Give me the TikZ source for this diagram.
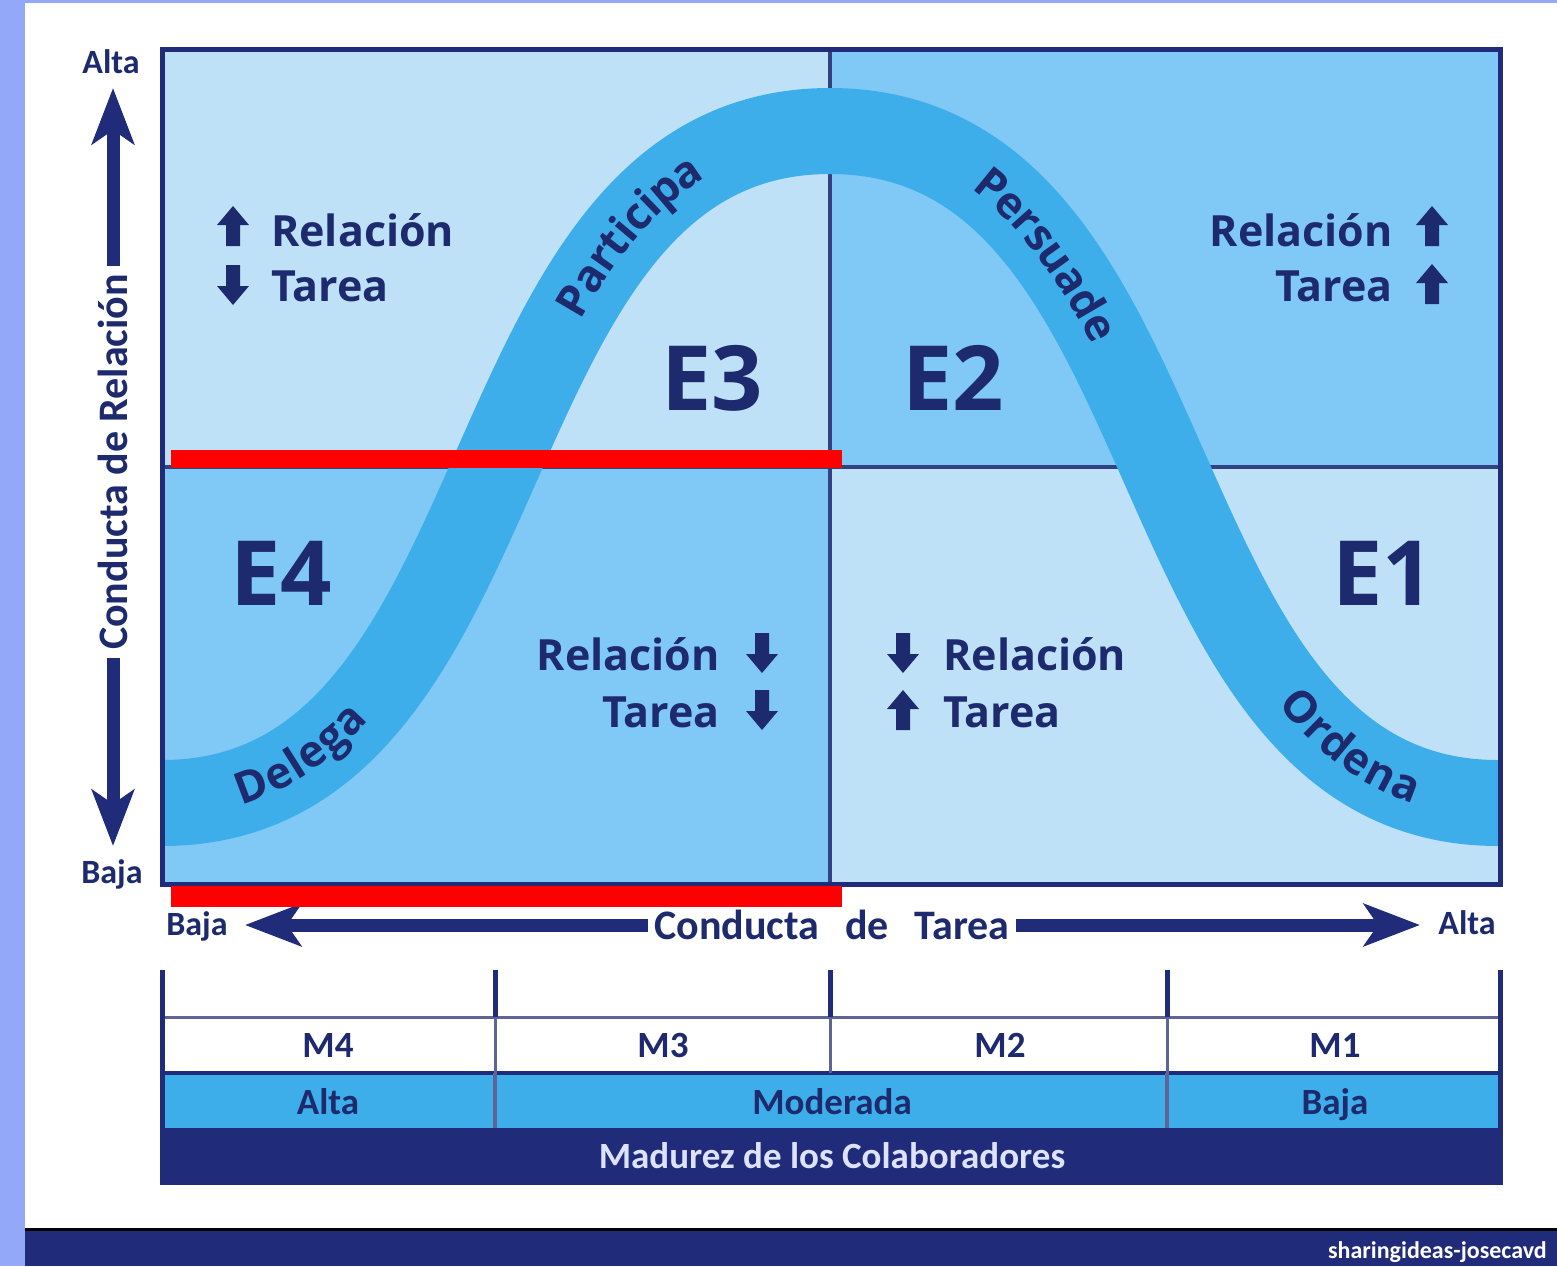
\documentclass[tikz,border=0pt]{standalone}
\usepackage{fontspec}
\setmainfont{Carlito}
\newfontfamily\osans{Open Sans}
\usetikzlibrary{arrows.meta,decorations.text}
\definecolor{navy}{RGB}{32,44,122}
\definecolor{txtnavy}{RGB}{30,42,110}
\definecolor{strip}{RGB}{148,168,250}
\definecolor{qlight}{RGB}{190,225,248}
\definecolor{qmid}{RGB}{128,200,245}
\definecolor{bandc}{RGB}{62,174,235}
\definecolor{midline}{RGB}{50,65,130}
\definecolor{tblgray}{RGB}{95,100,150}
\definecolor{lavender}{RGB}{220,226,255}
\newcommand\curvefont{\osans\bfseries\fontsize{44}{44}\selectfont}
\tikzset{
  qtext/.style={font=\osans\bfseries\fontsize{43}{43}\selectfont, text=txtnavy, inner sep=0pt},
  etext/.style={font=\osans\bfseries\fontsize{90}{90}\selectfont, text=txtnavy, inner sep=0pt},
  axtext/.style={font=\bfseries\fontsize{34}{34}\selectfont, text=txtnavy, inner sep=0pt},
  axbig/.style={font=\bfseries\fontsize{42}{42}\selectfont, text=txtnavy, inner sep=0pt},
  tbltext/.style={font=\bfseries\fontsize{37}{37}\selectfont, text=txtnavy, inner sep=0pt},
  footer/.style={font=\bfseries\fontsize{24}{24}\selectfont, text=white, inner sep=0pt},
  axarrow/.style={navy, line width=13pt, -{Stealth[length=56pt,width=42pt,inset=14pt]}},
  curvelabel/.style={decorate, decoration={text along path, text={|\curvefont|#1}, text color=txtnavy, raise=-13pt}},
  upblk/.pic={\fill[txtnavy] (-7,20) -- (-7,-1) -- (-16,-1) -- (0,-20) -- (16,-1) -- (7,-1) -- (7,20) -- cycle;},
  downblk/.pic={\fill[txtnavy] (-7,-20) -- (-7,1) -- (-16,1) -- (0,20) -- (16,1) -- (7,1) -- (7,-20) -- cycle;}
}
\newcommand\bandpath{(162,803) .. controls (532,803) and (460,131) .. (830,131) .. controls (1200,131) and (1128,803) .. (1498,803)}
\begin{document}
\begin{tikzpicture}[x=1pt,y=-1pt]
\useasboundingbox (0,0) rectangle (1557,1266);
\fill[white] (0,0) rectangle (1557,1266);
\fill[strip] (0,0) rectangle (25,1266);
\fill[strip] (0,0) rectangle (1557,3);
% footer
\fill[navy] (25,1228) rectangle (1557,1266);
\draw[black, line width=3pt] (25,1229.5) -- (1557,1229.5);
\node[footer, anchor=base east] (foot) at (1547,1258) {sharingideas-josecavd};
% quadrants
\fill[qlight] (162,49) rectangle (830,467);
\fill[qmid] (830,49) rectangle (1500,467);
\fill[qmid] (162,467) rectangle (830,884);
\fill[qlight] (830,467) rectangle (1500,884);
\draw[midline, line width=4pt] (830,49) -- (830,884);
\draw[midline, line width=4pt] (162,467) -- (1500,467);
\begin{scope}
\clip (162,49) rectangle (1500,884);
\draw[bandc, line width=86pt] (130,803) -- (162,803) .. controls (532,803) and (460,131) .. (830,131) .. controls (1200,131) and (1128,803) .. (1498,803) -- (1530,803);
\end{scope}
\draw[navy, line width=5pt] (162,49) rectangle (1500,884);
% curve labels
\path[curvelabel=Delega, decoration={text align={left indent=76pt}}] \bandpath;
\path[curvelabel=Participa, decoration={text align={left indent=676pt}}] \bandpath;
\path[curvelabel=Persuade, decoration={text align={left indent=1171pt}}] \bandpath;
\path[curvelabel=Ordena, decoration={text align={left indent=1778pt}}] \bandpath;
% E labels
\node[etext] (e3) at (712,378) {E3};
\node[etext] (e2) at (953,378) {E2};
\node[etext] (e4) at (281,573) {E4};
\node[etext] (e1) at (1383,573) {E1};
% quadrant texts
\pic (tlu) at (233,226) {upblk};
\node[qtext, anchor=base west] (tlrel) at (271,246) {Relación};
\pic (tld) at (233,285) {downblk};
\node[qtext, anchor=base west] (tltar) at (271,301) {Tarea};
\node[qtext, anchor=base east] (trrel) at (1393,246) {Relación};
\pic (tru1) at (1432,226) {upblk};
\node[qtext, anchor=base east] (trtar) at (1393,301) {Tarea};
\pic (tru2) at (1432,284) {upblk};
\node[qtext, anchor=base east] (blrel) at (720,670) {Relación};
\pic (bld1) at (762,653) {downblk};
\node[qtext, anchor=base east] (bltar) at (720,727) {Tarea};
\pic (bld2) at (762,710) {downblk};
\pic (brd) at (903,653) {downblk};
\node[qtext, anchor=base west] (brrel) at (943,670) {Relación};
\pic (bru) at (903,710) {upblk};
\node[qtext, anchor=base west] (brtar) at (943,727) {Tarea};
% axes
\node[axtext, anchor=base] (altaY) at (111,73) {Alta};
\node[axtext, anchor=base] (bajaY) at (112,883) {Baja};
\node[axtext, anchor=base] (bajaX) at (197,935) {Baja};
\node[axtext, anchor=base] (altaX) at (1467,934) {Alta};
\node[axbig, rotate=90, inner xsep=8pt] (crel) at (113,462) {Conducta de Relación};
\coordinate (reltop) at (113,88);
\coordinate (relbot) at (113,846);
\draw[axarrow] (crel.east) -- (reltop);
\draw[axarrow] (crel.west) -- (relbot);
\node[axbig, inner xsep=6pt] (ctar) at (832,925) {Conducta\hspace{26pt}de\hspace{26pt}Tarea};
\coordinate (tarl) at (245,925);
\coordinate (tarr) at (1420,925);
\draw[axarrow] (ctar.west) -- (tarl);
\draw[axarrow] (ctar.east) -- (tarr);
% red bars
\fill[red] (171,450) rectangle (842,468);
\fill[red] (171,886) rectangle (842,907);
% table
\fill[bandc] (162,1073) rectangle (1500,1128);
\fill[navy] (162,1128) rectangle (1500,1185);
\draw[tblgray, line width=3pt] (162,1017) -- (1500,1017);
\draw[navy, line width=4pt] (162,1073) -- (1500,1073);
\foreach \xx in {495,830,1167} {
  \draw[navy, line width=5pt] (\xx,970) -- (\xx,1017);
  \draw[tblgray, line width=3pt] (\xx,1017) -- (\xx,1073);
}
\foreach \xx in {495,1167} {
  \draw[tblgray, line width=4pt] (\xx,1073) -- (\xx,1128);
}
\draw[navy, line width=5pt] (162,970) -- (162,1185);
\draw[navy, line width=5pt] (1500,970) -- (1500,1185);
\node[tbltext, anchor=base] (m4) at (328,1057) {M4};
\node[tbltext, anchor=base] (m3) at (663,1057) {M3};
\node[tbltext, anchor=base] (m2) at (1000,1057) {M2};
\node[tbltext, anchor=base] (m1) at (1335,1057) {M1};
\node[tbltext, anchor=base] (alta) at (328,1114) {Alta};
\node[tbltext, anchor=base] (mod) at (832,1114) {Moderada};
\node[tbltext, anchor=base] (baja) at (1335,1114) {Baja};
\node[tbltext, text=lavender, anchor=base] (madurez) at (832,1168) {Madurez de los Colaboradores};
\end{tikzpicture}
\end{document}
